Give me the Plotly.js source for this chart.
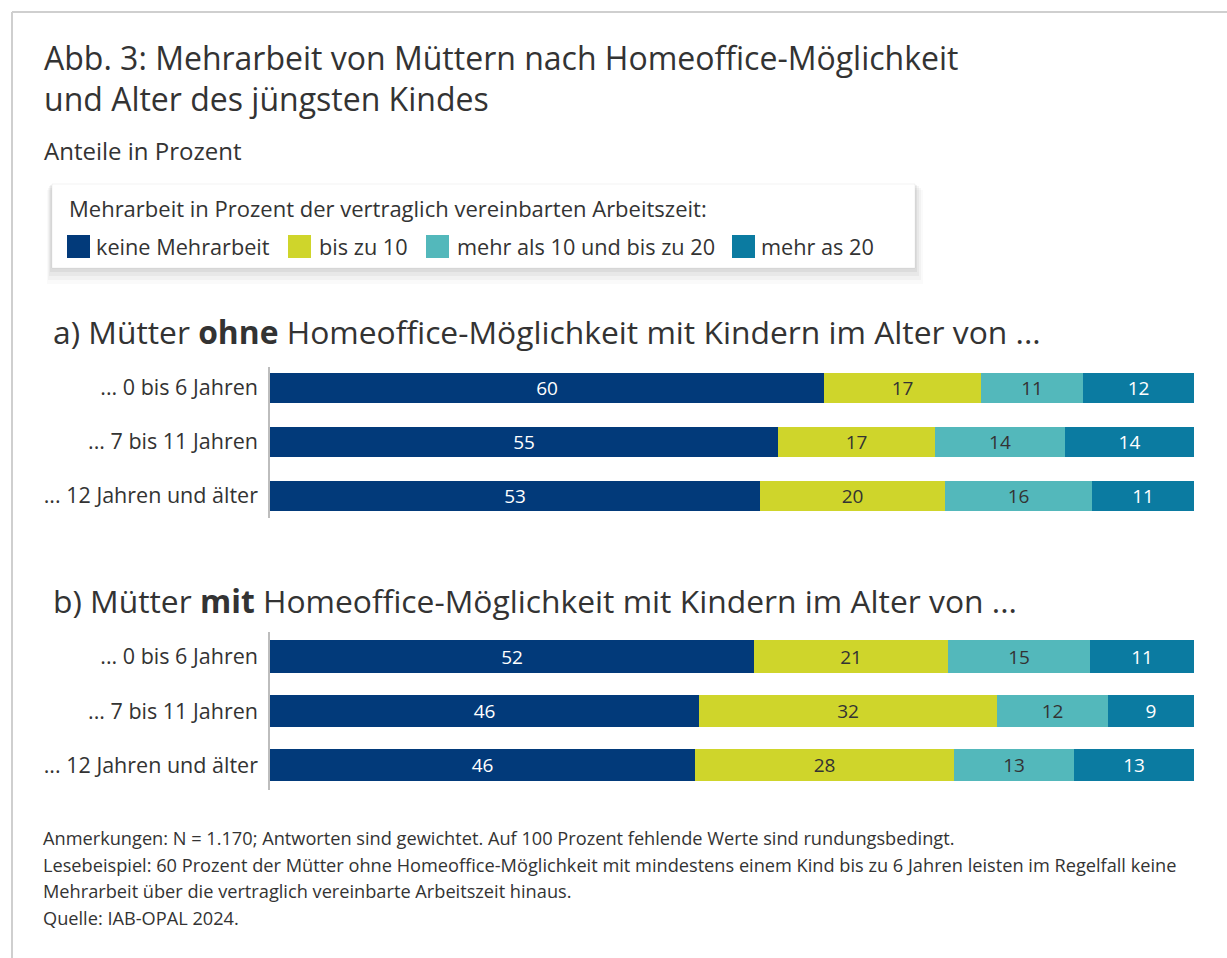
<!DOCTYPE html>
<html><head><meta charset="utf-8">
<script src="https://cdn.plot.ly/plotly-3.0.1.min.js"></script>
<style>html,body{margin:0;padding:0;background:#fff;overflow:hidden;} #chart{width:1227px;height:958px;}</style>
</head><body><div id="chart"></div>
<script>
// ---- data ----
const ageGroups = ['... 0 bis 6 Jahren', '... 7 bis 11 Jahren', '... 12 Jahren und älter'];
const seriesNames = ['keine Mehrarbeit', 'bis zu 10', 'mehr als 10 und bis zu 20', 'mehr as 20'];
// a) Mütter ohne Homeoffice-Möglichkeit
const ohneKeine = [60, 55, 53];
const ohneBis10 = [17, 17, 20];
const ohne10bis20 = [11, 14, 16];
const ohneUeber20 = [12, 14, 11];
// b) Mütter mit Homeoffice-Möglichkeit (bar lengths as drawn; labels rounded)
const mitKeine = [52.4, 46.4, 46];
const mitBis10 = [21, 32.3, 28];
const mit10bis20 = [15.3, 12, 13];
const mitUeber20 = [11.3, 9.3, 13];

const seriesColors = ['#023a7a', '#cfd52b', '#53b8bb', '#0b7ba1'];
const labelColors = ['#ffffff', '#333333', '#333333', '#ffffff'];

const W = 1227, H = 958;
const px = x => x / W;
const py = y => 1 - y / H;
const FONT = '"Open Sans", "Noto Sans", sans-serif';
const TXT = '#333333';

const ohneSeries = [ohneKeine, ohneBis10, ohne10bis20, ohneUeber20];
const mitSeries = [mitKeine, mitBis10, mit10bis20, mitUeber20];

function makeTraces(series, xa, ya, width) {
  return series.map((vals, i) => ({
    type: 'bar', orientation: 'h',
    name: seriesNames[i],
    x: vals, y: ageGroups,
    xaxis: xa, yaxis: ya,
    width: width,
    marker: {color: seriesColors[i], line: {width: 0}},
    texttemplate: '%{x:.0f}',
    textposition: 'inside',
    insidetextanchor: 'middle',
    textangle: 0,
    constraintext: 'none',
    textfont: {family: FONT, size: 19, color: labelColors[i]},
    showlegend: false,
    hoverinfo: 'name+x'
  }));
}

const data = [].concat(
  makeTraces(ohneSeries, 'x', 'y', 0.556),
  makeTraces(mitSeries, 'x2', 'y2', 0.59)
);

const yCommon = {
  type: 'category', categoryarray: ageGroups,
  showline: true, linecolor: '#bdbdbd', linewidth: 1.5,
  ticks: '', showgrid: false, zeroline: false,
  tickfont: {family: FONT, size: 21.5, color: TXT},
  ticklabelstandoff: 6
};
const xCommon = {range: [0, 100], visible: false, fixedrange: true};

const shapes = [
  // frame
  {type: 'line', xref: 'paper', yref: 'paper', x0: px(12), x1: px(1227), y0: py(12), y1: py(12), line: {color: '#cfcfcf', width: 2}},
  {type: 'line', xref: 'paper', yref: 'paper', x0: px(12), x1: px(12), y0: py(12), y1: py(958), line: {color: '#cfcfcf', width: 2}},
  // legend box shadow
  {type: 'rect', xref: 'paper', yref: 'paper', x0: px(47), x1: px(923), y0: py(190), y1: py(284), fillcolor: 'rgba(0,0,0,0.02)', line: {width: 0}, layer: 'below'},
  {type: 'rect', xref: 'paper', yref: 'paper', x0: px(48), x1: px(921), y0: py(188), y1: py(280), fillcolor: 'rgba(0,0,0,0.03)', line: {width: 0}, layer: 'below'},
  {type: 'rect', xref: 'paper', yref: 'paper', x0: px(49), x1: px(919), y0: py(186), y1: py(276), fillcolor: 'rgba(0,0,0,0.04)', line: {width: 0}, layer: 'below'},
  {type: 'rect', xref: 'paper', yref: 'paper', x0: px(50), x1: px(917), y0: py(185), y1: py(272), fillcolor: 'rgba(0,0,0,0.05)', line: {width: 0}, layer: 'below'},
  {type: 'rect', xref: 'paper', yref: 'paper', x0: px(52), x1: px(915), y0: py(184), y1: py(268), fillcolor: '#ffffff', line: {color: 'rgba(0,0,0,0.05)', width: 1}, layer: 'below'}
];

// legend squares + labels
const legendSquareX = [67, 288, 426, 732];
const legendTextX = [96, 319, 457, 761];
const legendY = 246.5;
legendSquareX.forEach((x, i) => {
  shapes.push({type: 'rect', xref: 'paper', yref: 'paper', x0: px(x), x1: px(x + 23), y0: py(legendY - 11.5), y1: py(legendY + 11.5), fillcolor: seriesColors[i], line: {width: 0}});
});

const ann = (text, x, y, size, extra) => Object.assign({
  text: text, xref: 'paper', yref: 'paper', x: px(x - 2), y: py(y),
  xanchor: 'left', yanchor: 'middle', showarrow: false, align: 'left',
  font: {family: FONT, size: size, color: TXT}
}, extra || {});

const annotations = [
  ann('Anteile in Prozent', 44, 151, 24),
  ann('Mehrarbeit in Prozent der vertraglich vereinbarten Arbeitszeit:', 69, 208, 22),
  ann('a) Mütter <b>ohne</b> Homeoffice-Möglichkeit mit Kindern im Alter von ...', 53, 331, 31.8),
  ann('b) Mütter <b>mit</b> Homeoffice-Möglichkeit mit Kindern im Alter von ...', 53, 600, 31.8),
  ann('Anmerkungen: N = 1.170; Antworten sind gewichtet. Auf 100 Prozent fehlende Werte sind rundungsbedingt.', 43, 838, 18.2),
  ann('Lesebeispiel: 60 Prozent der Mütter ohne Homeoffice-Möglichkeit mit mindestens einem Kind bis zu 6 Jahren leisten im Regelfall keine', 43, 864.5, 18.2),
  ann('Mehrarbeit über die vertraglich vereinbarte Arbeitszeit hinaus.', 43, 891, 18.2),
  ann('Quelle: IAB-OPAL 2024.', 43, 917.5, 18.2)
];
seriesNames.forEach((n, i) => annotations.push(ann(n, legendTextX[i], legendY, 21.7)));

const layout = {
  width: W, height: H,
  margin: {l: 0, r: 0, t: 0, b: 0},
  paper_bgcolor: '#ffffff', plot_bgcolor: 'rgba(0,0,0,0)',
  font: {family: FONT, color: TXT},
  title: {
    text: 'Abb. 3: Mehrarbeit von Müttern nach Homeoffice-Möglichkeit<br>und Alter des jüngsten Kindes',
    x: px(44), xanchor: 'left', xref: 'paper',
    y: py(69.5), yanchor: 'top', yref: 'paper',
    font: {family: FONT, size: 32, color: TXT}
  },
  barmode: 'stack',
  bargap: 0,
  xaxis: Object.assign({domain: [px(270), px(1194)], anchor: 'y'}, xCommon),
  yaxis: Object.assign({domain: [py(517.7), py(366.5)], range: [2.42, -0.38], anchor: 'x'}, yCommon),
  xaxis2: Object.assign({domain: [px(270), px(1194)], anchor: 'y2'}, xCommon),
  yaxis2: Object.assign({domain: [py(790), py(632.2)], range: [2.45, -0.45], anchor: 'x2'}, yCommon),
  shapes: shapes,
  annotations: annotations,
  showlegend: false
};

Plotly.newPlot('chart', data, layout, {displayModeBar: false});
</script>
</body></html>
